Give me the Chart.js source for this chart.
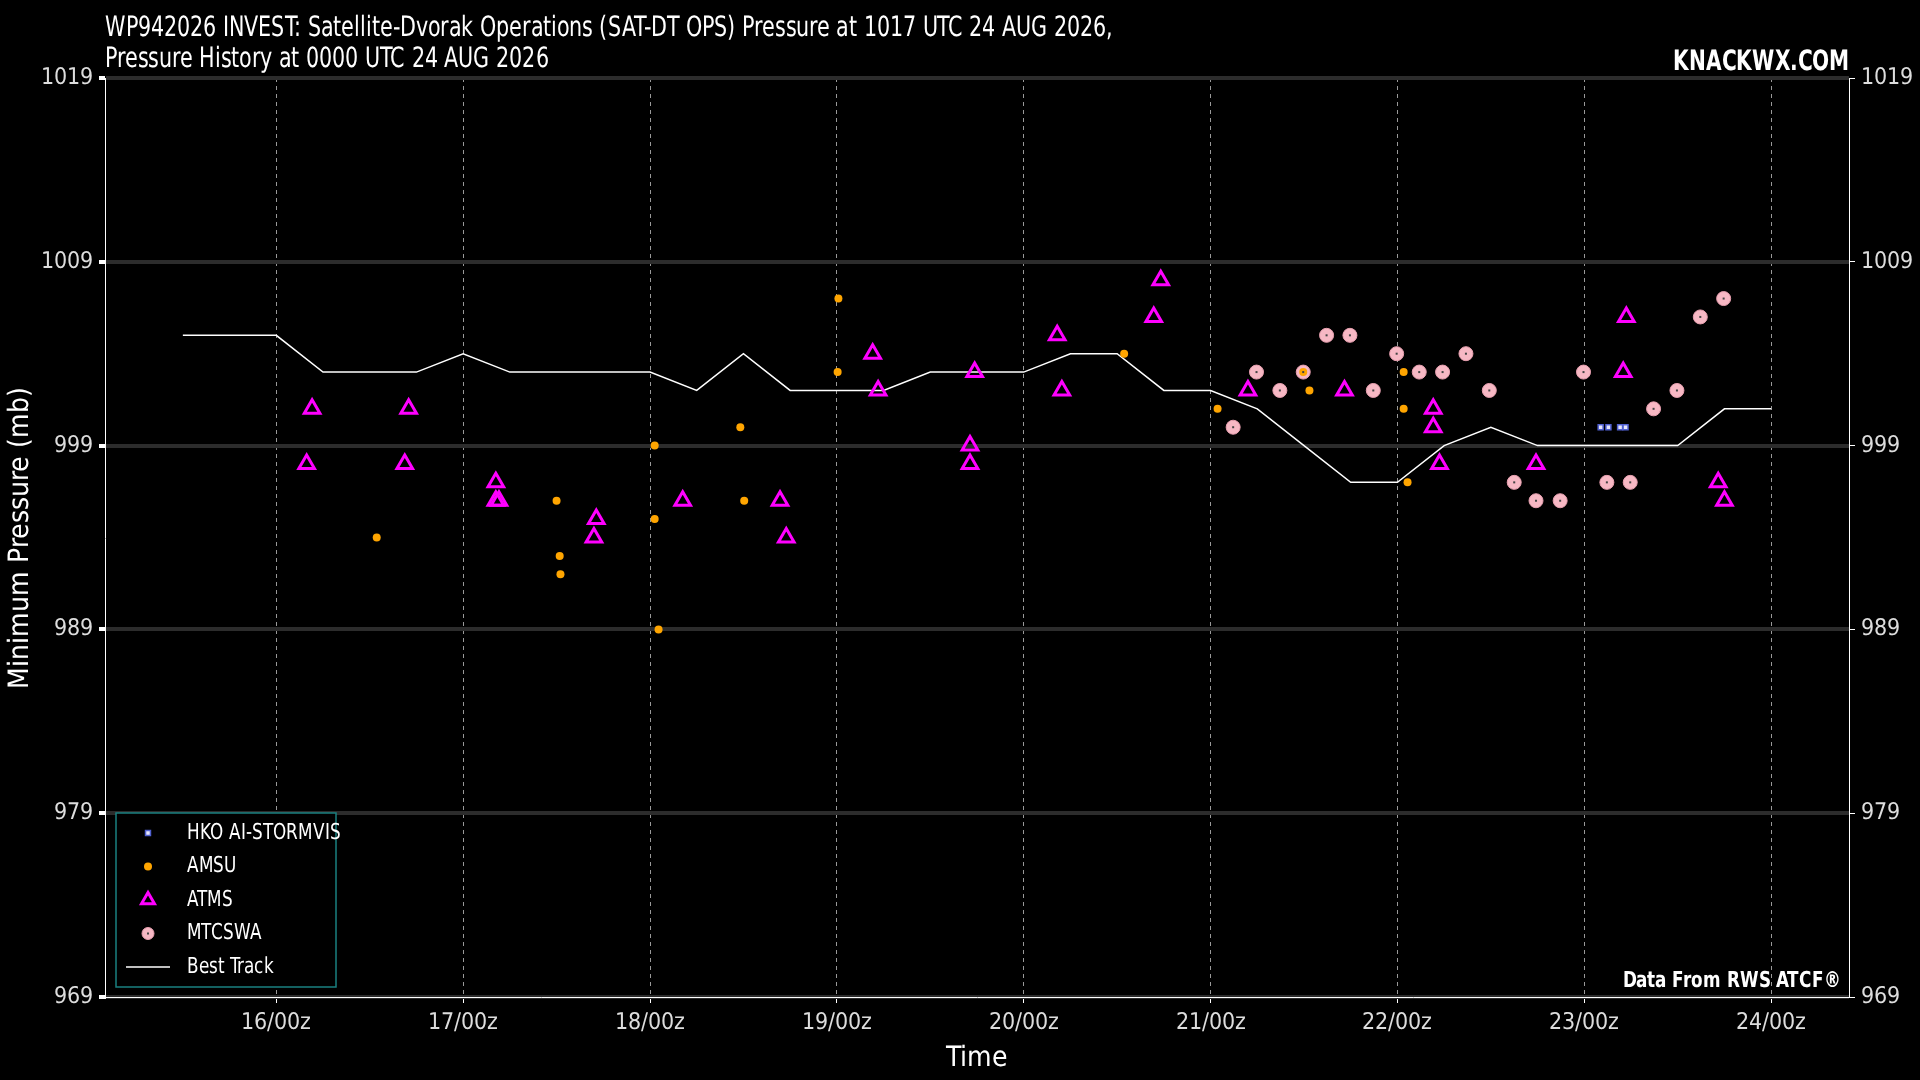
<!DOCTYPE html>
<html><head><meta charset="utf-8">
<script src="https://cdn.jsdelivr.net/npm/chart.js@4"></script>
<style>
@font-face{font-family:'CondF';src:local('DejaVu Sans Condensed'),local('DejaVuSansCondensed'),local('Liberation Sans Narrow'),local('LiberationSansNarrow-Regular');}
@font-face{font-family:'CondF';font-weight:bold;src:local('DejaVu Sans Condensed Bold'),local('DejaVuSansCondensed-Bold'),local('Liberation Sans Narrow Bold'),local('LiberationSansNarrow-Bold');}
html,body{margin:0;background:#000;}#w{position:absolute;left:0;top:0;width:1920px;height:1080px;}</style>
</head><body><div id="w"><canvas id="c" width="1920" height="1080"></canvas></div>
<script>
// hours since 16 AUG 00z
const bestHours=[-12,0,6,18,24,30,48,54,60,66,78,84,96,102,108,114,120,126,132,138,144,150,156,162,180,186,192];
const bestPres=[1005,1005,1003,1003,1004,1003,1003,1002,1004,1002,1002,1003,1003,1004,1004,1002,1002,1001,999,997,997,999,1000,999,999,1001,1001];
const atmsHours=[3.9,4.6,16.5,17,28.2,28.2,28.6,40.8,41.1,52.2,64.7,65.5,76.6,77.3,89.1,89.1,89.7,100.3,100.9,112.7,113.6,124.8,137.2,148.6,148.6,149.4,161.8,173,173.4,185.2,186];
const atmsPres=[998,1001,998,1001,997,996,996,994,995,996,996,994,1004,1002,999,998,1003,1005,1002,1006,1008,1002,1002,1001,1000,998,998,1003,1006,997,996];
const amsuHours=[12.9,36,36.4,36.5,48.6,48.6,49.1,59.6,60.1,72.1,72.2,108.9,120.9,131.9,132.7,144.8,144.8,145.3];
const amsuPres=[994,996,993,992,999,995,989,1000,996,1003,1007,1004,1001,1003,1002,1003,1001,997];
const mtcHours=[122.9,125.9,128.9,131.9,134.9,137.9,140.9,143.9,146.8,149.8,152.8,155.8,159,161.8,164.9,167.9,170.9,173.9,176.9,179.9,182.9,185.9];
const mtcPres=[1000,1003,1002,1003,1005,1005,1002,1004,1003,1003,1004,1002,997,996,996,1003,997,997,1001,1002,1006,1007];
const hkoHours=[170.1,171.1,172.6,173.3];
const hkoPres=[1000,1000,1000,1000];
const xTickLabels=["16/00z","17/00z","18/00z","19/00z","20/00z","21/00z","22/00z","23/00z","24/00z"];
const yTicks=[969,979,989,999,1009,1019];

const pts=(h,p)=>h.map((x,i)=>({x:x,y:p[i]}));
const FONT="CondF,'DejaVu Sans Condensed',sans-serif";

function build(){
Chart.defaults.font.family=FONT;
Chart.defaults.color='#fff';
const ds=[
 {label:'HKO AI-STORMVIS',data:pts(hkoHours,hkoPres),pointStyle:'rect',pointRadius:3.5,backgroundColor:'#e6e6fa',borderColor:'#5060d0',borderWidth:1.5,showLine:false},
 {label:'AMSU',data:pts(amsuHours,amsuPres),pointStyle:'circle',pointRadius:4,backgroundColor:'#ffa500',borderColor:'#ffa500',borderWidth:0,showLine:false},
 {label:'ATMS',data:pts(atmsHours,atmsPres),pointStyle:'triangle',pointRadius:9,backgroundColor:'rgba(0,0,0,0)',borderColor:'#ff00ff',borderWidth:3,showLine:false},
 {label:'MTCSWA',data:pts(mtcHours,mtcPres),pointStyle:'circle',pointRadius:7,backgroundColor:'#f7b8c4',borderColor:'#e8a0b0',borderWidth:1,showLine:false},
 {label:'Best Track',data:pts(bestHours,bestPres),showLine:true,borderColor:'#fff',borderWidth:1.5,pointRadius:0,fill:false,tension:0}
];
function narrowText(c,t,x,y,sx){c.save();c.translate(x,y);c.scale(sx,1);c.fillText(t,0,0);c.restore();}
const extras={id:'extras',
 afterDatasetsDraw(ch){
  const c=ch.ctx;
  ch.getDatasetMeta(3).data.forEach(p=>{c.fillStyle='#444';c.fillRect(p.x-1,p.y-1,2,2);});
 },
 afterDraw(ch){
  const c=ch.ctx,a=ch.chartArea;
  c.save();
  c.fillStyle='#fff';c.textBaseline='alphabetic';
  c.font="28px "+FONT;c.textAlign='left';
  narrowText(c,'WP942026 INVEST: Satellite-Dvorak Operations (SAT-DT OPS) Pressure at 1017 UTC 24 AUG 2026,',105,36,0.82);
  narrowText(c,'Pressure History at 0000 UTC 24 AUG 2026',105,67,0.82);
  c.font="bold 28px "+FONT;c.textAlign='right';
  narrowText(c,'KNACKWX.COM',1849,70,0.8);
  c.font="bold 22px "+FONT;
  narrowText(c,'Data From RWS ATCF\u00ae',a.right-8,a.bottom-10,0.85);
  const lx=116,ly=813,lw=220,lh=174;
  c.fillStyle='#000';c.fillRect(lx,ly,lw,lh);
  c.strokeStyle='#1a8080';c.lineWidth=1.5;c.strokeRect(lx,ly,lw,lh);
  c.font="22px "+FONT;c.textAlign='left';c.textBaseline='middle';
  const rowY=i=>ly+20+i*33.5;
  ch.data.datasets.forEach((d,i)=>{
   const y=rowY(i),mx=lx+32;
   if(i===4){c.strokeStyle='#fff';c.lineWidth=1.5;c.beginPath();c.moveTo(lx+10,y);c.lineTo(lx+54,y);c.stroke();}
   else{
    c.fillStyle=d.backgroundColor;c.strokeStyle=d.borderColor;c.lineWidth=d.borderWidth;
    Chart.helpers.drawPoint(c,{pointStyle:d.pointStyle,radius:i==2?7.5:(i==3?6:d.pointRadius),borderWidth:d.borderWidth},mx,y);
    if(i==3){c.fillStyle='#444';c.fillRect(mx-1,y-1,2,2);}
   }
   c.fillStyle='#fff';narrowText(c,d.label,lx+71,y,0.85);
  });
  c.restore();
 }};
new Chart(document.getElementById('c'),{
 type:'scatter',
 data:{datasets:ds},
 options:{responsive:false,animation:false,
  layout:{padding:{left:0,right:0,top:78,bottom:0}},
  plugins:{legend:{display:false},tooltip:{enabled:false}},
  scales:{
   x:{type:'linear',min:-22,max:202,
    afterBuildTicks:s=>{s.ticks=xTickLabels.map((_,i)=>({value:i*24}));},
    afterFit:s=>{s.height=83;},
    ticks:{callback:(v)=>xTickLabels[v/24],color:'#ddd',font:{size:23},maxRotation:0,autoSkip:false,padding:6},
    grid:{color:'#999',lineWidth:1,tickLength:6,tickColor:'#fff'},border:{color:'#fff',display:true,dash:[4,4]},
    title:{display:true,text:'Time',font:{size:28},color:'#fff',padding:{top:0}}},
   y:{min:969,max:1019,position:'left',
    afterBuildTicks:s=>{s.ticks=yTicks.map(v=>({value:v}));},
    afterFit:s=>{s.width=105;},
    ticks:{color:'#ddd',font:{size:23},padding:6,callback:v=>String(v)},
    grid:{color:'#2c2c2c',lineWidth:4,tickColor:'#fff',tickLength:6},border:{color:'#fff'},
    title:{display:true,text:'Minimum Pressure (mb)',font:{size:28},color:'#fff'}},
   y2:{min:969,max:1019,position:'right',
    afterBuildTicks:s=>{s.ticks=yTicks.map(v=>({value:v}));},
    afterFit:s=>{s.width=71;},
    ticks:{color:'#ddd',font:{size:23},padding:6,callback:v=>String(v)},
    grid:{drawOnChartArea:false,tickColor:'#fff',tickLength:6},border:{color:'#fff'}}
  }},
 plugins:[extras]
});
}
Promise.all([document.fonts.load("27px CondF"),document.fonts.load("bold 27px CondF")]).catch(()=>{}).then(build);
</script></body></html>
